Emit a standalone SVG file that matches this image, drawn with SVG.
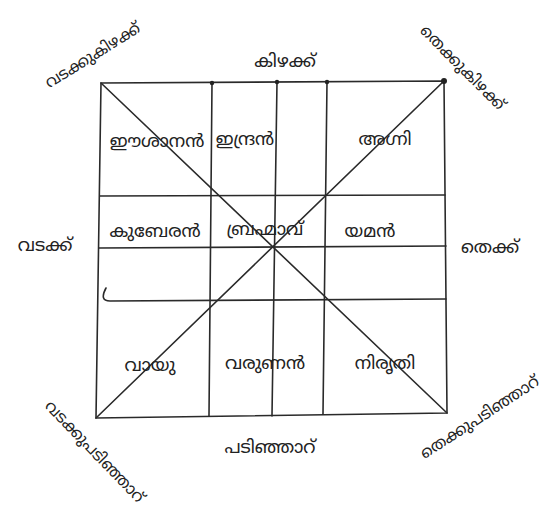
<svg xmlns="http://www.w3.org/2000/svg" width="556" height="520" viewBox="0 0 556 520">
<style>
.ln{stroke:#2a2a2a;stroke-width:1.6;fill:none;stroke-linecap:round}
.t{font-family:"Noto Sans Malayalam","Noto Sans","DejaVu Sans",sans-serif;font-size:18px;fill:#222;text-anchor:middle;dominant-baseline:middle}
.c{font-size:16px}
.dot{fill:#222}
</style>
<rect width="556" height="520" fill="#fff"/>
<g id="connectors">
<path class="ln" d="M101,83 L444,81 L447,413 L96,418 Z"/>
<path class="ln" d="M212,83 L209,416"/>
<path class="ln" d="M277,82 L272,416"/>
<path class="ln" d="M327,82 L323,414"/>
<path class="ln" d="M100,196 L445,195"/>
<path class="ln" d="M99,248 L446,246"/>
<path class="ln" d="M106,288 Q99,301 110,301 L446,299"/>
<path class="ln" d="M101,83 L447,413"/>
<path class="ln" d="M444,81 L96,418"/>
<circle class="dot" cx="212" cy="83" r="2.2"/>
<circle class="dot" cx="277" cy="82" r="2.2"/>
<circle class="dot" cx="327" cy="82" r="2.2"/>
<circle class="dot" cx="444" cy="81" r="3"/>
</g>
<g id="cell-eshanan"><text class="t" x="157" y="142">ഈശാനൻ</text></g>
<g id="cell-indran"><text class="t" x="245" y="140">ഇന്ദ്രൻ</text></g>
<g id="cell-agni"><text class="t" x="385" y="140">അഗ്നി</text></g>
<g id="cell-kuberan"><text class="t" x="155" y="232">കുബേരൻ</text></g>
<g id="cell-brahmav"><text class="t" x="265" y="230">ബ്രഹ്മാവ്</text></g>
<g id="cell-yaman"><text class="t" x="370" y="232">യമൻ</text></g>
<g id="cell-vayu"><text class="t" x="150" y="366">വായു</text></g>
<g id="cell-varunan"><text class="t" x="265" y="364">വരുണൻ</text></g>
<g id="cell-nirruti"><text class="t" x="385" y="364">നിരൃതി</text></g>
<g id="dir-east"><text class="t" x="285" y="62">കിഴക്ക്</text></g>
<g id="dir-west"><text class="t" x="270" y="448">പടിഞ്ഞാറ്</text></g>
<g id="dir-north"><text class="t" x="45" y="246">വടക്ക്</text></g>
<g id="dir-south"><text class="t" x="490" y="248">തെക്ക്</text></g>
<g id="dir-northeast"><text class="t c" transform="translate(93,56) rotate(-32)">വടക്കുകിഴക്ക്</text></g>
<g id="dir-southeast"><text class="t c" transform="translate(462,68) rotate(45)">തെക്കുകിഴക്ക്</text></g>
<g id="dir-northwest"><text class="t c" transform="translate(94,452) rotate(46)">വടക്കുപടിഞ്ഞാറ്</text></g>
<g id="dir-southwest"><text class="t c" transform="translate(480,418) rotate(-33)">തെക്കുപടിഞ്ഞാറ്</text></g>
</svg>
